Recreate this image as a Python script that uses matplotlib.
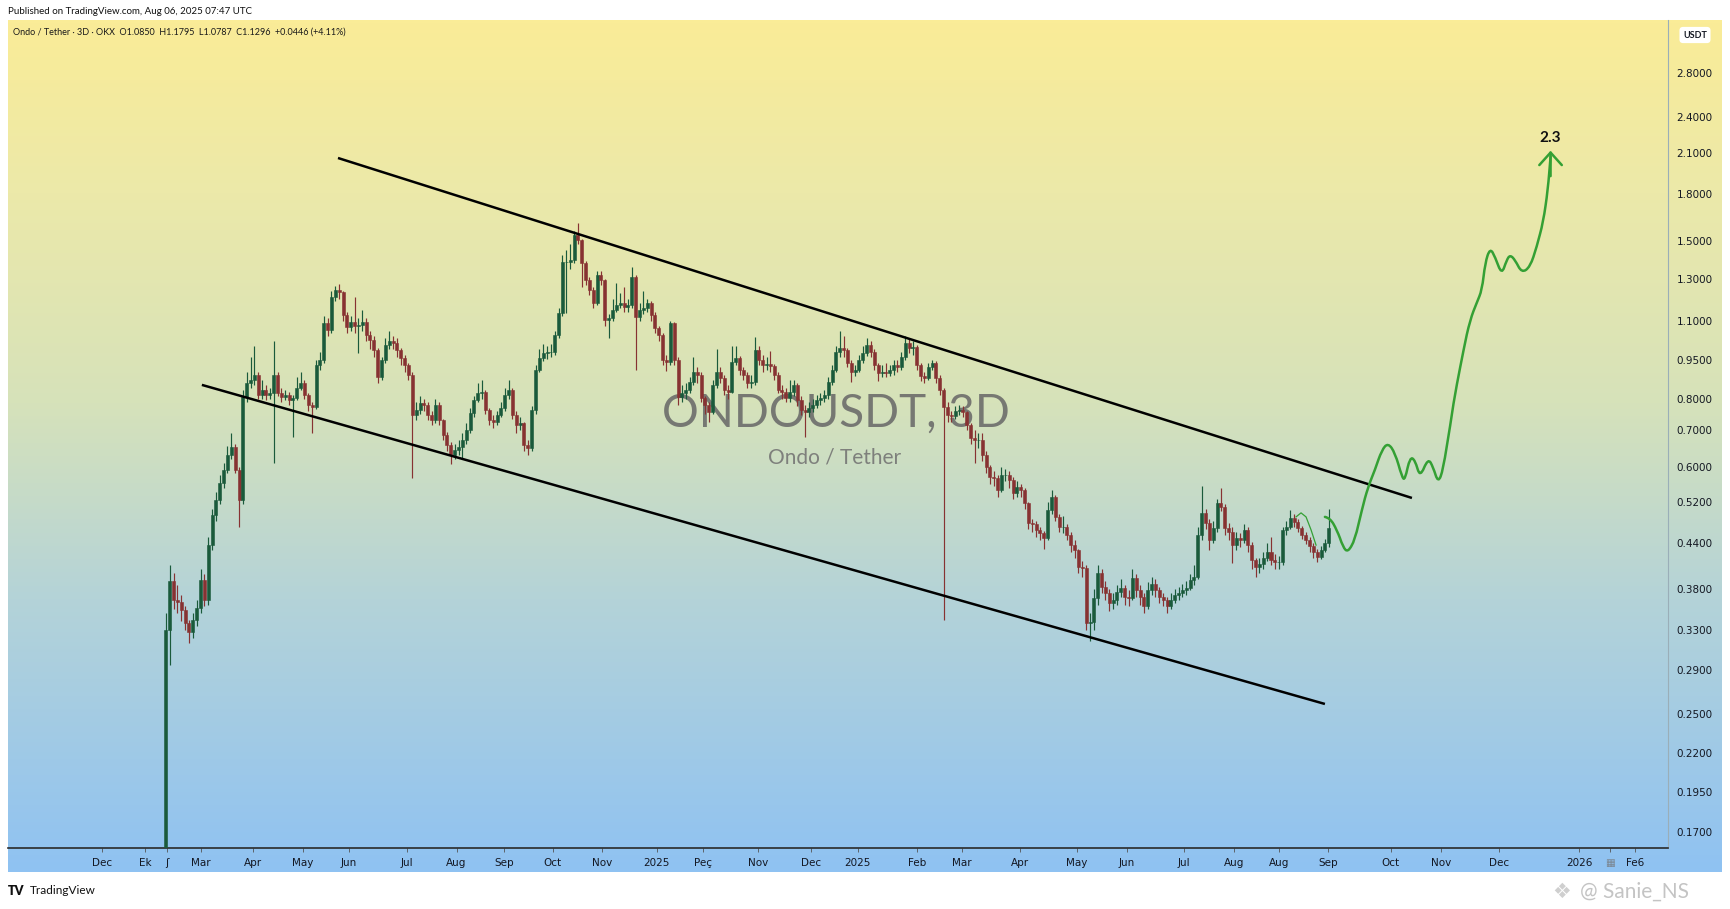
import numpy as np
import matplotlib
matplotlib.use("Agg")
import matplotlib.pyplot as plt
from matplotlib.colors import LinearSegmentedColormap
from matplotlib.path import Path
from matplotlib.patches import PathPatch
from matplotlib.ticker import NullLocator

plt.rcParams['font.family'] = ['DejaVu Sans']

# ---- data (3D candles, ONDO/USDT) ----
first_open = 0.15
closes = [
    .330, .389, .366, .363, .353, .338, .328, .341, .356, .391,
    .366, .437, .493, .524, .561, .592, .630, .652, .592, .524,
    .807, .859, .870, .890, .814, .832, .814, .821, .890, .821,
    .806, .814, .795, .803, .840, .859, .814, .779, .772, .931,
    .951, 1.091, 1.063, 1.211, 1.245, 1.235, 1.126, 1.075, 1.095, 1.079,
    1.083, 1.095, 1.044, 1.025, .988, .882, .951, 1.006, 1.021, 1.014,
    .988, .959, .931, .890, .746, .762, .785, .779, .746, .730,
    .779, .730, .686, .657, .630, .644, .652, .671, .700, .752,
    .795, .821, .825, .762, .730, .724, .746, .769, .814, .832,
    .746, .715, .721, .657, .649, .762, .910, .959, .977, .981,
    .981, 1.044, 1.136, 1.387, 1.387, 1.397, 1.534, 1.504, 1.382, 1.296,
    1.245, 1.183, 1.321, 1.296, 1.103, 1.112, 1.150, 1.173, 1.183, 1.164,
    1.173, 1.311, 1.117, 1.150, 1.159, 1.183, 1.126, 1.071, 1.044, .951,
    .944, 1.091, .951, .806, .821, .832, .862, .902, .890, .803,
    .779, .756, .851, .902, .878, .832, .825, .944, .959, .910,
    .890, .859, .862, .988, .951, .931, .935, .927, .890, .832,
    .825, .803, .825, .851, .795, .762, .756, .769, .779, .795,
    .803, .814, .862, .910, .981, .995, .988, .939, .902, .910,
    .951, .977, 1.006, .981, .931, .898, .902, .898, .910, .931,
    .923, .962, 1.014, .995, .999, .931, .886, .878, .923, .939,
    .878, .832, .772, .746, .743, .759, .762, .756, .715, .677,
    .671, .671, .630, .599, .575, .573, .546, .580, .580, .568,
    .539, .552, .546, .517, .477, .475, .464, .458, .449, .503,
    .531, .489, .470, .470, .455, .437, .430, .407, .406, .338,
    .339, .368, .400, .382, .374, .362, .366, .376, .381, .369,
    .368, .393, .378, .369, .358, .378, .386, .378, .369, .366,
    .358, .366, .372, .374, .378, .381, .391, .395, .455, .497,
    .477, .445, .468, .517, .509, .468, .460, .437, .449, .445,
    .464, .437, .416, .408, .411, .419, .427, .416, .414, .414,
    .464, .470, .487, .479, .468, .455, .445, .436, .427, .421,
    .430, .440, .468,
]
highs = [
    .350, .410, .400, .385, .372, .358, .342, .350, .366, .405,
    .398, .450, .505, .540, .580, .610, .655, .690, .660, .600,
    .830, .900, .960, 1.000, .900, .870, .850, .840, 1.020, .900,
    .840, .830, .825, .815, .880, .900, .870, .820, .790, .950,
    .980, 1.120, 1.110, 1.240, 1.265, 1.275, 1.240, 1.140, 1.120, 1.210,
    1.110, 1.150, 1.110, 1.060, 1.040, .995, .960, 1.030, 1.060, 1.040,
    1.030, .995, .970, .940, .900, .790, .810, .800, .790, .760,
    .800, .790, .735, .695, .665, .660, .670, .690, .720, .770,
    .810, .860, .870, .830, .770, .745, .760, .790, .840, .870,
    .840, .760, .740, .725, .670, .775, .930, .990, 1.010, 1.000,
    1.010, 1.060, 1.160, 1.420, 1.450, 1.480, 1.560, 1.607, 1.510, 1.390,
    1.310, 1.260, 1.340, 1.340, 1.300, 1.130, 1.200, 1.280, 1.230, 1.260,
    1.200, 1.360, 1.320, 1.180, 1.240, 1.200, 1.190, 1.140, 1.080, 1.050,
    .970, 1.100, 1.095, .960, .850, .860, .880, .960, .920, .900,
    .810, .790, .870, .990, .920, .890, .850, 1.000, 1.000, .965,
    .920, .900, .890, 1.035, 1.000, .970, .960, .985, .935, .900,
    .850, .840, .870, .870, .860, .810, .780, .790, .800, .815,
    .820, .830, .880, .930, 1.000, 1.060, 1.040, .995, .950, .930,
    .970, 1.000, 1.030, 1.020, .990, .940, .930, .940, .930, .950,
    .950, .980, 1.040, 1.030, 1.020, 1.005, .940, .900, .940, .950,
    .945, .890, .840, .790, .760, .775, .780, .775, .760, .720,
    .700, .690, .690, .640, .605, .590, .580, .600, .595, .590,
    .575, .565, .560, .550, .520, .485, .480, .470, .462, .520,
    .545, .535, .495, .490, .475, .460, .445, .432, .415, .410,
    .350, .380, .410, .405, .390, .380, .375, .385, .392, .385,
    .378, .405, .398, .385, .375, .388, .395, .392, .382, .375,
    .370, .374, .380, .382, .386, .390, .398, .410, .470, .555,
    .505, .485, .480, .525, .550, .515, .478, .470, .460, .458,
    .475, .470, .442, .420, .420, .428, .440, .450, .425, .422,
    .470, .480, .503, .495, .485, .472, .460, .450, .440, .432,
    .436, .448, .505,
]
lows = [
    .150, .295, .355, .350, .340, .330, .316, .322, .335, .350,
    .358, .360, .430, .480, .515, .550, .585, .620, .585, .470,
    .515, .790, .840, .850, .800, .800, .795, .800, .610, .810,
    .790, .795, .780, .680, .795, .830, .800, .760, .690, .765,
    .910, .940, 1.040, 1.050, 1.190, 1.200, 1.100, 1.050, 1.060, 1.050,
    .975, 1.060, 1.020, .990, .960, .860, .870, .940, .990, .990,
    .960, .930, .900, .870, .573, .730, .750, .760, .730, .715,
    .720, .715, .670, .640, .608, .620, .630, .620, .660, .690,
    .740, .790, .800, .750, .715, .705, .715, .740, .760, .800,
    .735, .690, .700, .640, .630, .640, .750, .900, .945, .955,
    .960, .970, 1.030, 1.120, 1.136, 1.350, 1.380, 1.480, 1.260, 1.270,
    1.220, 1.160, 1.170, 1.270, 1.080, 1.030, 1.100, 1.140, 1.160, 1.140,
    1.140, 1.160, .910, 1.100, 1.130, 1.140, 1.100, 1.050, 1.020, .930,
    .905, .930, .930, .780, .790, .800, .820, .850, .860, .790,
    .750, .725, .750, .840, .860, .815, .800, .820, .930, .890,
    .870, .840, .840, .850, .930, .900, .910, .900, .870, .820,
    .800, .790, .790, .810, .775, .745, .680, .740, .755, .770,
    .780, .790, .800, .850, .900, .960, .960, .920, .862, .885,
    .900, .940, .965, .960, .910, .865, .880, .880, .885, .890,
    .900, .910, .950, .975, .970, .910, .865, .860, .870, .910,
    .860, .815, .341, .725, .725, .735, .745, .740, .700, .660,
    .610, .650, .615, .585, .560, .555, .530, .540, .565, .550,
    .525, .530, .530, .505, .465, .460, .450, .445, .432, .445,
    .495, .480, .460, .458, .445, .428, .420, .400, .395, .330,
    .318, .330, .360, .375, .365, .352, .355, .360, .370, .360,
    .358, .365, .370, .360, .350, .355, .372, .370, .362, .358,
    .350, .354, .362, .366, .370, .372, .378, .385, .392, .445,
    .465, .430, .440, .460, .500, .455, .445, .412, .430, .435,
    .440, .428, .405, .395, .400, .405, .415, .410, .405, .405,
    .410, .455, .465, .470, .460, .448, .438, .428, .420, .414,
    .418, .428, .435,
]

# drawn channel lines and projected path (bar index, price)
upper_x = [44.7, 323.6]
upper_y = [2.063, 0.528]
lower_x = [9.35, 301.0]
lower_y = [0.851, 0.2586]
proj_x = [301.0, 302.3, 304.1, 305.7, 307.0, 308.8, 310.6, 312.2, 314.0, 315.8,
          317.4, 319.2, 321.0, 321.8, 323.1, 324.4, 325.7, 327.8, 329.1, 330.4,
          331.7, 333.5, 335.3, 337.0, 338.7, 340.4, 341.8, 342.6, 343.9, 345.2,
          346.9, 348.2, 349.1, 350.4, 352.1, 354.3, 356.0, 357.7, 358.9, 359.6]
proj_y = [0.489, 0.487, 0.464, 0.434, 0.427, 0.445, 0.503, 0.552, 0.592, 0.644,
          0.663, 0.636, 0.575, 0.568, 0.625, 0.617, 0.573, 0.622, 0.599, 0.561,
          0.592, 0.709, 0.858, 0.987, 1.103, 1.181, 1.245, 1.381, 1.460, 1.412,
          1.321, 1.396, 1.423, 1.396, 1.331, 1.361, 1.465, 1.612, 1.827, 2.071]
thin_x = [293.5, 294.8, 296.1, 297.4, 298.7]
thin_y = [0.489, 0.497, 0.489, 0.464, 0.437]
target_label = "2.3"
target_tip = 2.12

# price axis (labels as printed, and where they sit on the picture)
price_ticks = [2.8, 2.4, 2.1, 1.8, 1.5, 1.3, 1.1, 0.95, 0.8, 0.7,
               0.6, 0.52, 0.44, 0.38, 0.33, 0.29, 0.25, 0.22, 0.195, 0.17]
price_tick_px = [72.7, 116.7, 153.3, 194, 240.7, 279.3, 320.7, 360.3, 398.7, 430,
                 466.7, 501.7, 543, 588.7, 630, 670, 714, 752.7, 792, 831.7]

# time axis labels (as printed) and their bar positions
time_labels = ["Dec", "Ek", "ʃ", "Mar", "Apr", "May", "Jun", "Jul", "Aug", "Sep",
               "Oct", "Nov", "2025", "Peç", "Nov", "Dec", "2025", "Feb", "Mar", "Apr",
               "May", "Jun", "Jul", "Aug", "Aug", "Sep", "Oct", "Nov", "Dec", "2026",
               "▦", "Fe6"]
time_pos = [-16.7, -5.3, 0.2, 9.1, 22.5, 35.5, 47.5, 62.6, 75.5, 87.9,
            100.5, 113.2, 127.5, 139.4, 153.8, 167.5, 179.7, 195.0, 206.7, 221.8,
            236.5, 249.5, 264.4, 277.4, 289.2, 301.8, 318.1, 331.1, 346.2, 367.1,
            375.1, 381.6]

GREEN = '#1a5a3b'
RED = '#873232'
PROJ = '#34a034'

W, H = 1731, 909
fig = plt.figure(figsize=(W / 100, H / 100), dpi=100)
fig.patch.set_facecolor('white')


def box(x0, y0, x1, y1):
    return [x0 / W, 1 - y1 / H, (x1 - x0) / W, (y1 - y0) / H]


# background gradient (chart + both axis strips)
bg = fig.add_axes(box(8, 20, 1722, 872))
cmap = LinearSegmentedColormap.from_list(
    'tv', [(0, '#8fc2f2'), (0.32, '#b4d3d8'), (0.55, '#d6e2ba'), (0.8, '#ece9a9'), (1, '#faec97')])
bg.imshow(np.linspace(0, 1, 256)[:, None], aspect='auto', cmap=cmap, origin='lower',
          extent=[0, 1, 0, 1])
bg.axis('off')

ax = fig.add_axes(box(8, 20, 1668, 848))
ax.set_zorder(2)
ax.patch.set_alpha(0)

# price scale: piecewise log mapping through the printed labels
lv = np.log(np.array(price_ticks[::-1]))
pp = -np.array(price_tick_px[::-1], dtype=float)
s0 = (pp[1] - pp[0]) / (lv[1] - lv[0])
s1 = (pp[-1] - pp[-2]) / (lv[-1] - lv[-2])


def fwd(v):
    x = np.log(np.maximum(np.asarray(v, dtype=float), 1e-6))
    y = np.interp(x, lv, pp)
    y = np.where(x < lv[0], pp[0] + (x - lv[0]) * s0, y)
    return np.where(x > lv[-1], pp[-1] + (x - lv[-1]) * s1, y)


def inv(y):
    y = np.asarray(y, dtype=float)
    x = np.interp(y, pp, lv)
    x = np.where(y < pp[0], lv[0] + (y - pp[0]) / s0, x)
    x = np.where(y > pp[-1], lv[-1] + (y - pp[-1]) / s1, x)
    return np.exp(x)


ax.set_yscale('function', functions=(fwd, inv))
ax.set_ylim(float(inv(-848)), float(inv(-20)))
ax.set_xlim(-41.0, 390.1)

# watermark
ax.text(0.4988, 0.524, "ONDOUSDT, 3D", transform=ax.transAxes, ha='center', va='center',
        fontsize=33, color='#666666', alpha=0.85, family=['Lato', 'DejaVu Sans'], zorder=1)
ax.text(0.498, 0.472, "Ondo / Tether", transform=ax.transAxes, ha='center', va='center',
        fontsize=15, color='#707070', alpha=0.85, family=['Lato', 'DejaVu Sans'], zorder=1)

# candles
c = np.array(closes)
o = np.concatenate([[first_open], c[:-1]])
hi = np.maximum(np.array(highs), np.maximum(o, c))
lo = np.minimum(np.array(lows), np.minimum(o, c))
idx = np.arange(len(c))
cols = np.where(c >= o, GREEN, RED)
ax.vlines(idx, lo, hi, colors=cols, lw=0.85, zorder=3)
ax.bar(idx, np.maximum(o, c) - np.minimum(o, c), bottom=np.minimum(o, c), width=0.78,
       color=cols, edgecolor=cols, linewidth=0.4, zorder=4)

# channel
ax.plot(upper_x, upper_y, color='black', lw=1.8, zorder=5, solid_capstyle='butt')
ax.plot(lower_x, lower_y, color='black', lw=1.8, zorder=5, solid_capstyle='butt')

# projected path (smooth quadratic curve through the drawn points)
pts = list(zip(proj_x, proj_y))
verts = [pts[0]]
codes = [Path.MOVETO]
for k in range(1, len(pts) - 1):
    mid = ((pts[k][0] + pts[k + 1][0]) / 2, (pts[k][1] + pts[k + 1][1]) / 2)
    verts += [pts[k], mid]
    codes += [Path.CURVE3, Path.CURVE3]
verts.append(pts[-1])
codes.append(Path.LINETO)
ax.add_patch(PathPatch(Path(verts, codes), fill=False, edgecolor=PROJ, lw=1.8, zorder=6,
                       capstyle='round', joinstyle='round'))
ax.plot(thin_x, thin_y, color=PROJ, lw=0.9, zorder=6)
ax.annotate('', xy=(proj_x[-1], target_tip), xytext=(proj_x[-1], proj_y[-1] * 0.93),
            arrowprops=dict(arrowstyle='->,head_length=0.5,head_width=0.45', color=PROJ,
                            lw=1.8, mutation_scale=18, shrinkA=0, shrinkB=0), zorder=6)
ax.text(proj_x[-1] - 0.2, 2.22, target_label, ha='center', va='center', fontsize=11,
        fontweight='bold', color='#111111', family=['Lato', 'DejaVu Sans'], zorder=7)

# axes styling
for s in ['top', 'left']:
    ax.spines[s].set_visible(False)
ax.spines['right'].set_color('#9aaeb8')
ax.spines['right'].set_linewidth(0.8)
ax.spines['bottom'].set_color('#2a2a2a')
ax.spines['bottom'].set_linewidth(1.2)

ax.yaxis.tick_right()
ax.set_yticks(price_ticks)
ax.set_yticklabels([f"{v:.4f}" for v in price_ticks])
ax.yaxis.set_minor_locator(NullLocator())
ax.tick_params(axis='y', length=0, pad=6, labelsize=7.5, labelcolor='#131722')

ax.set_xticks(time_pos)
ax.set_xticklabels(time_labels)
ax.xaxis.set_minor_locator(NullLocator())
ax.tick_params(axis='x', length=3, width=0.6, color='#555555', pad=4, labelsize=7.5,
               labelcolor='#131722')
ax.get_xticklabels()[time_labels.index("▦")].set_color('#7a8590')

# header / footer texts
fig.text(8 / W, 1 - 11 / H, "Published on TradingView.com, Aug 06, 2025 07:47 UTC",
         fontsize=7, va='center', ha='left', color='#111111', family=['Lato', 'DejaVu Sans'])
fig.text(13 / W, 1 - 32 / H,
         "Ondo / Tether · 3D · OKX  O1.0850  H1.1795  L1.0787  C1.1296  +0.0446 (+4.11%)",
         fontsize=6.5, va='center', ha='left', color='#1a1a1a', family=['Lato', 'DejaVu Sans'],
         zorder=10)
fig.text(1695 / W, 1 - 35 / H, "USDT", fontsize=6.5, fontweight='bold', ha='center', va='center',
         color='#131722', family=['Lato', 'DejaVu Sans'], zorder=10,
         bbox=dict(boxstyle='round,pad=0.4', fc='white', ec='none'))
fig.text(8 / W, 1 - 891 / H, "TV", fontsize=9, fontweight='heavy', ha='left', va='center',
         color='#111111', family=['Lato', 'DejaVu Sans'])
fig.text(30 / W, 1 - 891 / H, "TradingView", fontsize=8.5, ha='left', va='center',
         color='#111111', family=['Lato', 'DejaVu Sans'])
fig.text(1562 / W, 1 - 892 / H, "❖", fontsize=15, ha='center', va='center', color='#cfcfcf',
         family=['DejaVu Sans'])
fig.text(1580 / W, 1 - 892 / H, "@ Sanie_NS", fontsize=15, ha='left', va='center',
         color='#c4c4c4', family=['Lato', 'DejaVu Sans'])

fig.savefig('out.png', dpi=100, facecolor='white')
